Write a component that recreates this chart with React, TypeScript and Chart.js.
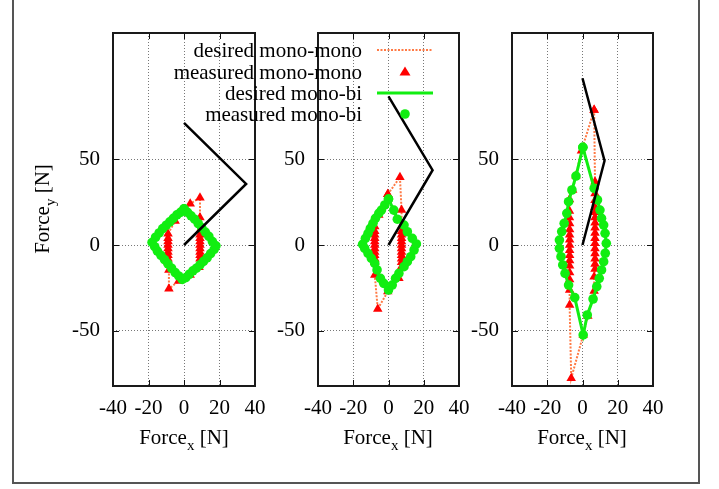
import React, { useEffect, useRef } from 'react';
import { Chart, registerables } from 'chart.js';
Chart.register(...registerables);

const FONT = "'Liberation Serif', 'Times New Roman', serif";
const ORANGE = '#ff7a45';
const RED = '#ff0000';
const GREEN = '#11ee11';

const xTicks = [-40, -20, 0, 20, 40];
const yTicks = [-50, 0, 50];
const xMin = -40, xMax = 40;
const yMin = -82, yMax = 123.3;

const legendLabels = ['desired mono-mono', 'measured mono-mono', 'desired mono-bi', 'measured mono-bi'];

// Panel 1
const p1MonoMono = [[-1,19],[3.5,24],[9,27.5],[9,16],[9,8.5],[9,6],[9,4],[9,2],[9,0],[9,-2],[9,-4],[9,-6],[9,-8],[9,-10.5],[8.5,-13],[3.5,-17.5],[-3,-21],[-8.5,-25.5],[-8.5,-14.5],[-9,-10],[-9,-8],[-9,-6],[-9,-4],[-9,-2],[-9,0],[-9,2],[-9,4],[-9,6.5],[-5,14],[-1,19]];
const p1MonoBi = [[0,21],[-2,19],[-4,17.5],[-6,15.5],[-8,13.5],[-10,11.5],[-12,9.5],[-14,7],[-16,4.5],[-18,1.5],[-16.5,-1],[-15,-3.5],[-13,-6],[-11,-8.5],[-9,-11],[-7,-13.5],[-5,-16],[-3,-18],[-1,-20],[1,-19],[3,-17],[5,-15],[7,-13.5],[9,-11.5],[11,-9.5],[13,-7.5],[15,-5],[17,-2.5],[18,-0.5],[16,2],[14,5],[12,7.5],[10,10],[8,12.5],[6,15],[4,17],[2,19],[0,21]];
const p1Dir = [[0,0],[35,35.5],[0,71]];

// Panel 2
const p2MonoMono = [[-0.4,29.5],[6.5,39.4],[7.4,20.3],[7.4,10.7],[7.4,8],[7.4,6],[7.4,4],[7.4,2],[7.4,0],[7.4,-2],[7.4,-4],[7.4,-6],[7.4,-8],[7.4,-10],[7.4,-12.6],[5.9,-19.4],[-0.4,-27],[-6.1,-37.2],[-7.8,-17.4],[-7.8,-10],[-7.8,-8],[-7.8,-6],[-7.8,-4],[-7.8,-2],[-7.8,0],[-7.8,2],[-7.8,4],[-7.8,6],[-7.8,8],[-7.8,10.7],[-5.5,17.4],[-0.4,29.5]];
const p2MonoBi = [[0,26.7],[-2.1,23.3],[-4,20.3],[-5.5,18.4],[-7.4,15.5],[-8.8,12.6],[-10.3,9.7],[-11.6,6.8],[-13.1,3.9],[-14.7,0.4],[-13.5,-2],[-11.6,-4.9],[-9.7,-7.8],[-7.8,-10.7],[-6.5,-14.5],[-4.6,-19.4],[-2.7,-22.3],[0,-26.2],[2.1,-23.3],[4,-19.4],[5.9,-16.5],[8.8,-12.6],[10.7,-9.7],[12.6,-6.8],[14.5,-2.9],[15.8,0.6],[13.5,3.9],[10.7,7.7],[8.8,11.6],[5,15],[3,20.3],[0,26.7]];
const p2Dir = [[0,0],[25,43.5],[0,86.5]];

// Panel 3
const p3MonoMono = [[6.6,78.5],[7.1,36.8],[7.1,30],[7.1,26],[7.1,22],[7.1,19],[7.1,16],[7.1,13],[7.1,10],[7.1,7],[7.1,4],[7.1,1],[7.1,-2],[7.1,-5],[7.1,-8],[7.1,-11],[7.1,-14],[6.6,-18.4],[6.6,-26.7],[3,-41.3],[0.4,-52.3],[-6.4,-77.5],[-7.3,-34.9],[-7.3,-26.2],[-7.3,-20],[-7.3,-16],[-7.3,-12],[-7.3,-9],[-7.3,-6],[-7.3,-3],[-7.3,0],[-7.3,3],[-7.3,6],[-7.3,9],[-7.3,12.5],[-7.4,16],[-7.4,19.8],[-7.4,26.5],[-5.6,32],[-3.7,40.3],[-0.6,54.8],[6.6,78.5]];
const p3MonoBi = [[0.2,56.8],[-3.7,40.1],[-6,32],[-7.9,25.2],[-8.9,18.4],[-10.4,12.6],[-11.8,7.8],[-13.1,2.9],[-13.1,-1.9],[-12.2,-6.8],[-11.2,-11.6],[-9.9,-16.5],[-7.9,-23.3],[-4.4,-30.6],[0.4,-52.3],[2.7,-40.7],[6,-31.4],[8.1,-24.2],[9.5,-19.4],[10.8,-14.5],[12,-9.7],[12.9,-4.8],[13.5,1],[12.8,6.8],[12,11.6],[10.8,15.5],[9.9,20.3],[8.5,26.2],[6.6,33],[0.2,56.8]];
const p3Dir = [[0,0],[12.5,49],[0,97]];

const toPts = (arr: number[][]) => arr.map(([x, y]) => ({ x, y }));

const framePlugin = {
  id: 'frame',
  beforeDatasetsDraw(chart: any) {
    const { ctx, chartArea: a, scales } = chart;
    ctx.save();
    ctx.strokeStyle = '#111';
    ctx.lineWidth = 1;
    ctx.beginPath();
    xTicks.forEach((v) => {
      const px = Math.round(scales.x.getPixelForValue(v)) + 0.5;
      ctx.moveTo(px, a.bottom); ctx.lineTo(px, a.bottom - 6);
      ctx.moveTo(px, a.top); ctx.lineTo(px, a.top + 6);
    });
    yTicks.forEach((v) => {
      const py = Math.round(scales.y.getPixelForValue(v)) + 0.5;
      ctx.moveTo(a.left, py); ctx.lineTo(a.left + 6, py);
      ctx.moveTo(a.right, py); ctx.lineTo(a.right - 6, py);
    });
    ctx.stroke();
    ctx.lineWidth = 2;
    ctx.strokeStyle = '#1a1a1a';
    ctx.strokeRect(a.left, a.top, a.right - a.left, a.bottom - a.top);
    ctx.restore();
  },
};

function Panel({ left, width, yAxisWidth, mm, mb, dir }: any) {
  const ref = useRef<HTMLCanvasElement>(null);
  useEffect(() => {
    const font = { family: FONT, size: 21 };
    const chart = new Chart(ref.current as HTMLCanvasElement, {
      type: 'scatter',
      data: {
        datasets: [
          { label: legendLabels[0], data: toPts(mm), showLine: true, borderColor: ORANGE, borderWidth: 2, borderDash: [2, 1.5], pointRadius: 0, order: 5 },
          { label: legendLabels[1], data: toPts(mm), showLine: false, pointStyle: 'triangle', pointRadius: 5.5, backgroundColor: RED, borderColor: RED, borderWidth: 0, order: 4 },
          { label: legendLabels[2], data: toPts(mb), showLine: true, borderColor: GREEN, borderWidth: 3, pointRadius: 0, order: 3 },
          { label: legendLabels[3], data: toPts(mb), showLine: false, pointStyle: 'circle', pointRadius: 4.8, backgroundColor: GREEN, borderColor: GREEN, borderWidth: 0, order: 2 },
          { label: 'direction', data: toPts(dir), showLine: true, borderColor: '#000', borderWidth: 2.5, pointRadius: 0, order: 1 },
        ],
      } as any,
      options: {
        responsive: false,
        animation: false,
        devicePixelRatio: 1,
        layout: { padding: { left: 0, right: 15, top: 33, bottom: 0 } },
        plugins: { legend: { display: false }, tooltip: { enabled: false } },
        scales: {
          x: {
            type: 'linear', min: xMin, max: xMax,
            afterBuildTicks: (s: any) => { s.ticks = xTicks.map((v) => ({ value: v })); },
            afterFit: (s: any) => { s.height = 103; s.paddingLeft = 0; s.paddingRight = 0; },
            grid: { color: '#777', lineWidth: 1, drawTicks: false },
            border: { display: false, dash: [1, 2] },
            ticks: { font, color: '#000', padding: 10, maxRotation: 0, autoSkip: false },
          },
          y: {
            type: 'linear', min: yMin, max: yMax,
            afterBuildTicks: (s: any) => { s.ticks = yTicks.map((v) => ({ value: v })); },
            afterFit: (s: any) => { s.width = yAxisWidth; s.paddingTop = 0; s.paddingBottom = 0; },
            grid: { color: '#777', lineWidth: 1, drawTicks: false },
            border: { display: false, dash: [1, 2] },
            ticks: { font, color: '#000', padding: 13, autoSkip: false },
          },
        },
      } as any,
      plugins: [framePlugin],
    });
    return () => chart.destroy();
  }, []);
  return (
    <canvas ref={ref} width={width} height={489}
      style={{ position: 'fixed', left, top: 0, width, height: 489 }} />
  );
}

const textStyle: any = { fontFamily: FONT, fontSize: 21, color: '#000', lineHeight: '24px', whiteSpace: 'nowrap' };

function AxisTitle({ sub }: { sub: string }) {
  return (
    <span>
      Force<span style={{ fontSize: 15, position: 'relative', top: 6 }}>{sub}</span> [N]
    </span>
  );
}

function LegendSample({ i }: { i: number }) {
  return (
    <svg width={60} height={24} style={{ position: 'fixed', left: 375, top: [50, 71.5, 92.5, 114][i] - 12 }}>
      {i === 0 && <line x1={2} y1={12} x2={58} y2={12} stroke={ORANGE} strokeWidth={2} strokeDasharray="2 1.5" />}
      {i === 1 && <polygon points="30,6.5 35.5,15.5 24.5,15.5" fill={RED} />}
      {i === 2 && <line x1={2} y1={12} x2={58} y2={12} stroke={GREEN} strokeWidth={3} />}
      {i === 3 && <circle cx={30} cy={12} r={4.8} fill={GREEN} />}
    </svg>
  );
}

export default function App() {
  return (
    <div>
      <div style={{ position: 'fixed', left: 12, top: -10, width: 688, height: 494, border: '2px solid #555', boxSizing: 'border-box' }} />
      <Panel left={40} width={230} yAxisWidth={73} mm={p1MonoMono} mb={p1MonoBi} dir={p1Dir} />
      <Panel left={240} width={234} yAxisWidth={78} mm={p2MonoMono} mb={p2MonoBi} dir={p2Dir} />
      <Panel left={440} width={228} yAxisWidth={72} mm={p3MonoMono} mb={p3MonoBi} dir={p3Dir} />
      {[184, 388, 582].map((cx) => (
        <div key={cx} style={{ ...textStyle, position: 'fixed', left: cx - 100, width: 200, top: 425, textAlign: 'center' }}>
          <AxisTitle sub="x" />
        </div>
      ))}
      <div style={{ ...textStyle, position: 'fixed', left: 42 - 70, top: 209 - 12, width: 140, height: 24, textAlign: 'center', transform: 'rotate(-90deg)' }}>
        <AxisTitle sub="y" />
      </div>
      {legendLabels.map((t, i) => (
        <div key={t} style={{ ...textStyle, position: 'fixed', left: 0, width: 362, top: [50, 71.5, 92.5, 114][i] - 12, textAlign: 'right' }}>{t}</div>
      ))}
      {legendLabels.map((t, i) => <LegendSample key={t} i={i} />)}
    </div>
  );
}
